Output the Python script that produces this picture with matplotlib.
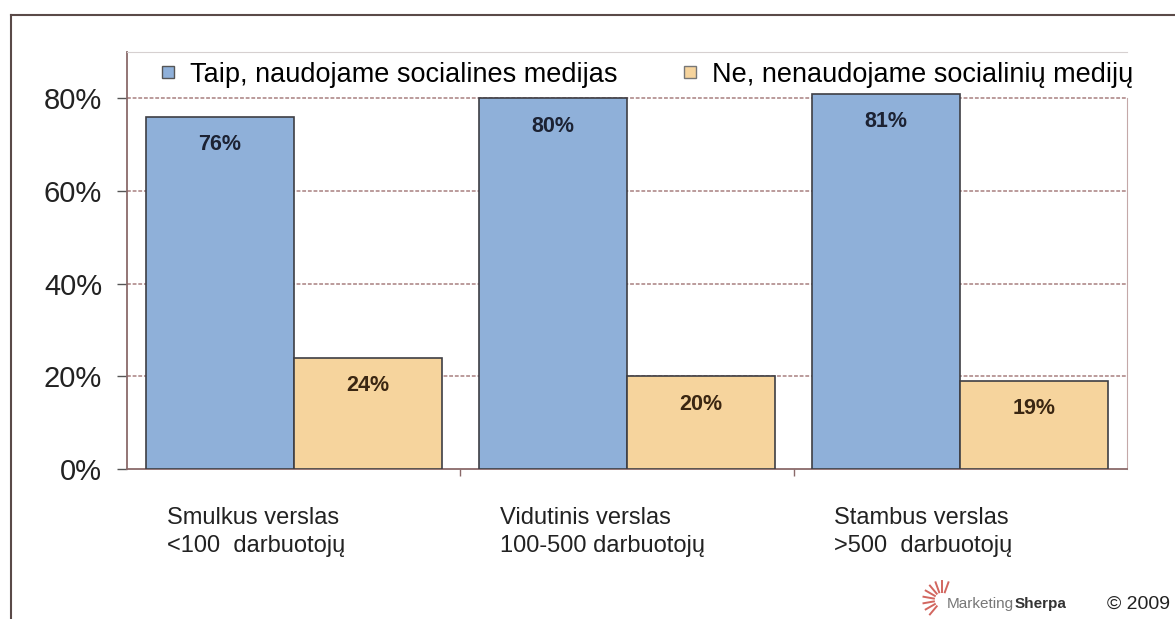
import matplotlib.pyplot as plt
from matplotlib.lines import Line2D
import numpy as np

# survey: do companies use social media, by company size
categories = ["Smulkus verslas\n<100  darbuotojų",
              "Vidutinis verslas\n100-500 darbuotojų",
              "Stambus verslas\n>500  darbuotojų"]
yes_vals = [76, 80, 81]
no_vals = [24, 20, 19]
series_names = ["Taip, naudojame socialines medijas",
                "Ne, nenaudojame socialinių medijų"]
y_ticks = [0, 20, 40, 60, 80]

blue = "#8fb0d9"
orange = "#f6d49d"
edge = "#3e3e44"
grid_col = "#a88080"

plt.rcParams['font.family'] = ['Liberation Sans', 'DejaVu Sans']

fig = plt.figure(figsize=(11.75, 6.19), dpi=100)
ax = fig.add_axes([0.1081, 0.2423, 0.8510, 0.6737])

x = np.arange(len(categories))
w = 0.444
b1 = ax.bar(x - w / 2, yes_vals, w, color=blue, edgecolor=edge, linewidth=1.2, zorder=3)
b2 = ax.bar(x + w / 2, no_vals, w, color=orange, edgecolor=edge, linewidth=1.2, zorder=3)

# value labels just under the top of each bar
for bars, vals, col in [(b1, yes_vals, "#1c2233"), (b2, no_vals, "#3a2612")]:
    for r, v in zip(bars, vals):
        ax.annotate(f"{v}%", (r.get_x() + r.get_width() / 2, v),
                    xytext=(0, -20), textcoords="offset points",
                    ha="center", va="center", fontsize=15.5, fontweight="bold",
                    color=col, zorder=4)

ax.set_xlim(-0.5, 2.5)
ax.set_ylim(0, 90)
ax.set_yticks(y_ticks)
ax.set_yticklabels([f"{t}%" for t in y_ticks], fontsize=21, color="#222222")
ax.tick_params(axis="y", length=7, width=1, color="#555555", pad=11)
ax.set_xticks([0.5, 1.5])
ax.set_xticklabels([])
ax.tick_params(axis="x", length=5, width=1, color="#8a6a6a")

for t in y_ticks[1:]:
    ax.axhline(t, color=grid_col, lw=1.1, ls=(0, (2.5, 1.2)), zorder=1)

for s in ["left", "bottom"]:
    ax.spines[s].set_color("#8a6a6a")
    ax.spines[s].set_linewidth(1.3)
ax.spines["top"].set_color("#d6d0d0")
ax.spines["right"].set_color("#c4a8a8")
ax.spines["right"].set_bounds(0, 80)

# category labels, two lines, left-aligned under each group
for xi, lab in zip(x, categories):
    ax.text(xi - 0.38, -8.3, lab, ha="left", va="top", fontsize=17,
            color="#222222", linespacing=1.35)

handles = [Line2D([], [], marker="s", ls="", markersize=9, markerfacecolor=blue,
                  markeredgecolor="#555555"),
           Line2D([], [], marker="s", ls="", markersize=9, markerfacecolor=orange,
                  markeredgecolor="#777777")]
ax.legend(handles, series_names, loc="center left", bbox_to_anchor=(0.03, 0.945),
          ncol=2, frameon=False, fontsize=19.5, handlelength=0.8,
          handletextpad=0.4, columnspacing=2.3, borderpad=0, borderaxespad=0)

# outer frame
fig.add_artist(Line2D([0.009, 1.0], [1 - 15 / 619, 1 - 15 / 619],
                      transform=fig.transFigure, color="#5a4a48", lw=1.5))
fig.add_artist(Line2D([0.0095, 0.0095], [0.0, 1 - 15 / 619],
                      transform=fig.transFigure, color="#5a4a48", lw=1.5))

# MarketingSherpa credit with a small sun
cx, cy = 942 / 1175, 1 - 600 / 619
for a in np.linspace(70, 230, 9):
    r0, r1 = 0.007, 0.016
    dx, dy = np.cos(np.radians(a)), np.sin(np.radians(a)) * 1175 / 619
    fig.add_artist(Line2D([cx + r0 * dx, cx + r1 * dx], [cy + r0 * dy, cy + r1 * dy],
                          transform=fig.transFigure, color="#d2665f", lw=1.4))
t1 = fig.text(947 / 1175, 1 - 604 / 619, "Marketing", fontsize=11, color="#777777",
              ha="left", va="center")
ax.annotate("Sherpa", xy=(1, 0), xycoords=t1, ha="left", va="bottom",
            fontsize=11, color="#333333", fontweight="bold", annotation_clip=False)
fig.text(1170 / 1175, 1 - 604 / 619, "© 2009", fontsize=14, color="#222222",
         ha="right", va="center")

fig.savefig("out.png", dpi=100)
